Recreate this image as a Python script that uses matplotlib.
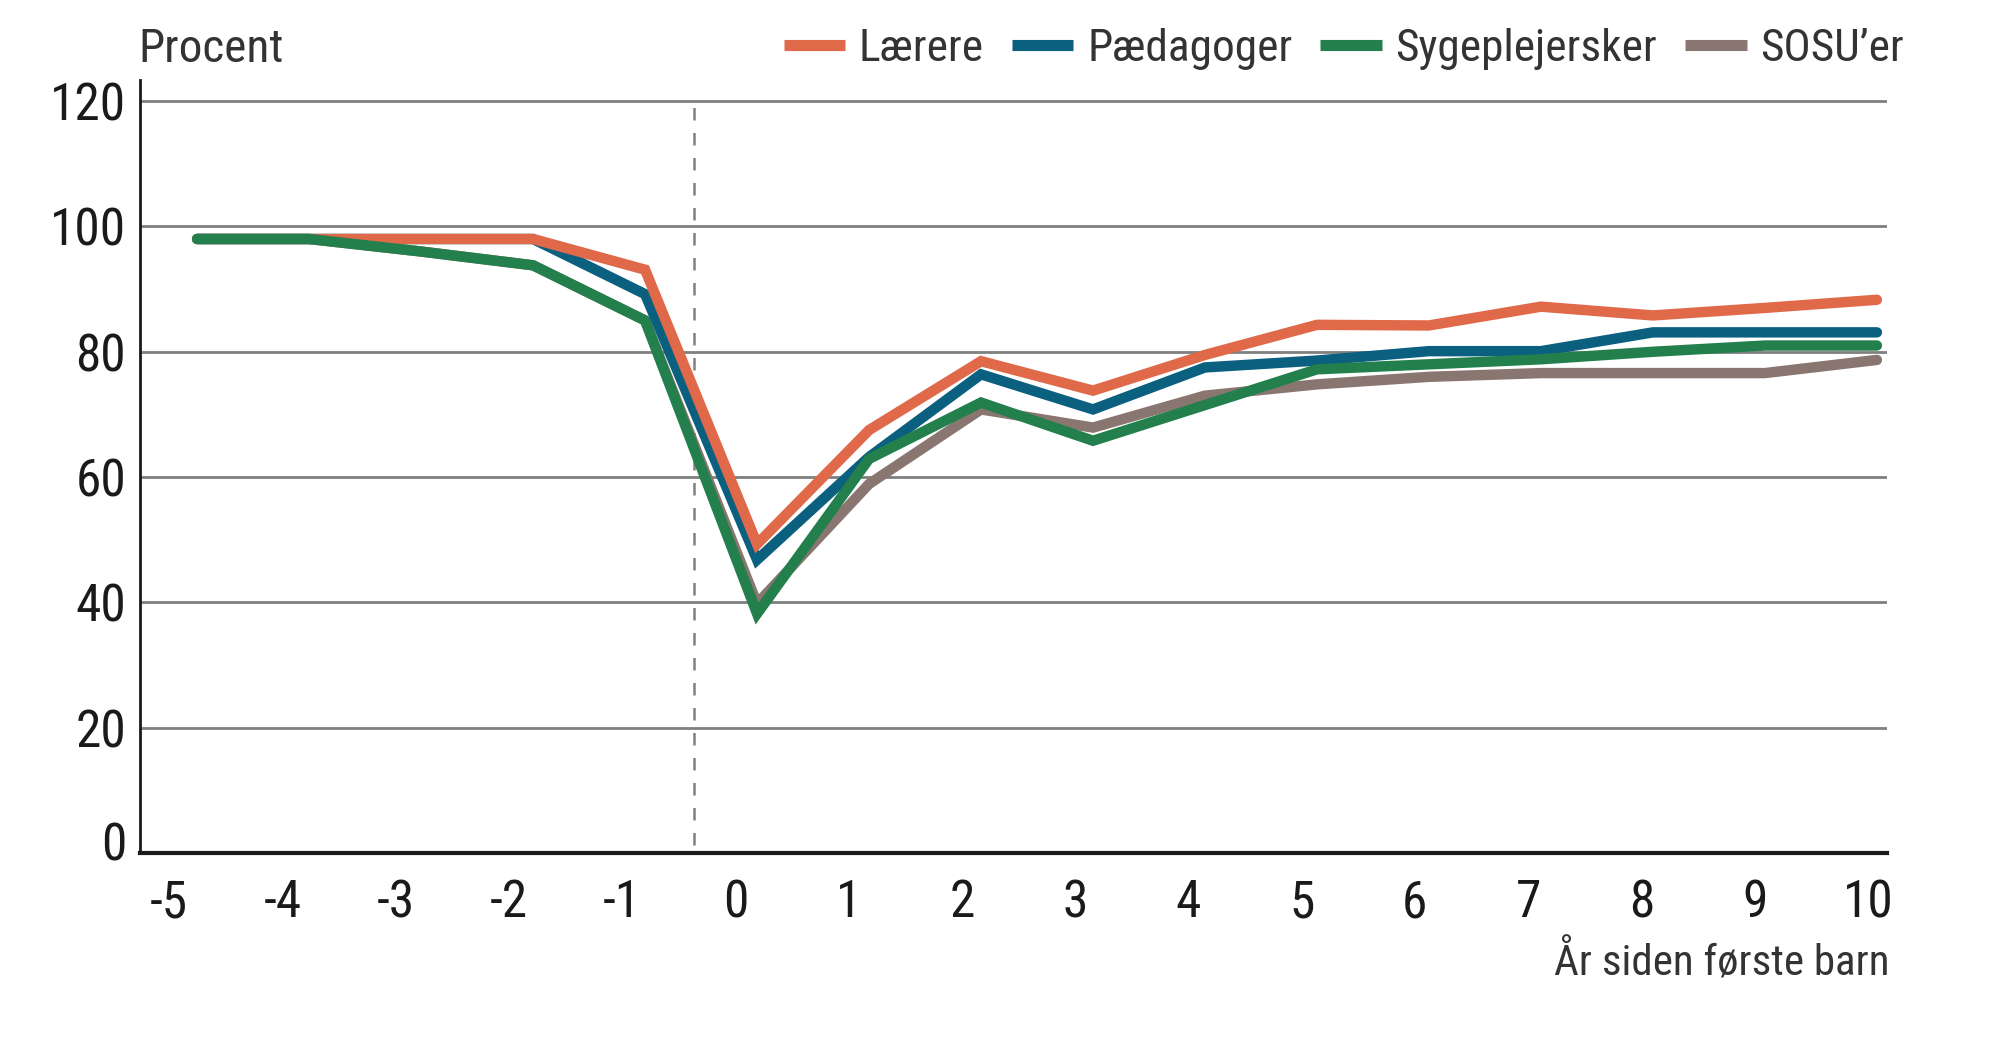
import numpy as np
import matplotlib
matplotlib.use("Agg")
import matplotlib.pyplot as plt
from matplotlib import font_manager
import matplotlib.transforms as mtransforms

# ---- data ----
years = [-5, -4, -3, -2, -1, 0, 1, 2, 3, 4, 5, 6, 7, 8, 9, 10]
tick_labels = [str(y) for y in years]
laerere = [98, 98, 98, 98, 93.1, 49.3, 67.5, 78.5, 73.8, 79.5, 84.3, 84.2, 87.2, 85.8, 87.0, 88.3]
paedagoger = [98, 98, 98, 98, 89.2, 46.8, 63.2, 76.4, 70.8, 77.5, 78.6, 80.1, 80.1, 83.1, 83.1, 83.1]
sygeplejersker = [98, 98, 96, 93.8, 85.0, 38.2, 62.9, 71.9, 65.8, 71.5, 77.2, 78.0, 78.8, 80.0, 81.0, 81.0]
sosu = [98, 98, 96, 93.8, 85.0, 39.8, 58.9, 70.8, 67.9, 73.0, 74.8, 76.0, 76.6, 76.6, 76.6, 78.7]
series_names = ["Lærere", "Pædagoger", "Sygeplejersker", "SOSU’er"]
colors = ["#E0694A", "#0B5F7F", "#23804D", "#8A7670"]
event_x = -0.56
yticks = [0, 20, 40, 60, 80, 100, 120]

# ---- font ----
avail = {f.name for f in font_manager.fontManager.ttflist}
fam = "DejaVu Sans"
for cand in ["Roboto Condensed", "Liberation Sans Narrow", "Roboto", "Liberation Sans"]:
    if cand in avail:
        fam = cand
        break
plt.rcParams["font.family"] = [fam, "DejaVu Sans"]

fig = plt.figure(figsize=(20, 10.37), dpi=100)
ax = fig.add_axes([0.070, 0.1774, 0.8735, 0.745])

x = np.array(years)
order = [3, 1, 0, 2]  # z-order bottom -> top: SOSU, Pædagoger, Lærere, Sygeplejersker
data = [laerere, paedagoger, sygeplejersker, sosu]
handles = {}
for z, i in enumerate(order):
    (ln,) = ax.plot(x, data[i], color=colors[i], lw=7.5, solid_capstyle="round",
                    solid_joinstyle="miter", zorder=3 + z, label=series_names[i])
    handles[i] = ln

ax.set_ylim(0, 123.3)
ax.set_xlim(-5.51, 10.09)
ax.yaxis.grid(True, color="#808080", lw=2.0)
ax.set_axisbelow(True)
ax.tick_params(axis="both", length=0, labelsize=37, colors="#1a1a1a")
ax.set_yticks(yticks)
ax.set_yticklabels([str(v) for v in yticks])
ax.tick_params(axis="y", pad=10)
tick_pos = np.array(years) + np.linspace(-0.25, -0.08, len(years))
ax.set_xticks(tick_pos)
ax.set_xticklabels(tick_labels)
ax.tick_params(axis="x", pad=18)

# lift the "0" label slightly, as in the reference
zero_lbl = ax.get_yticklabels()[0]
zero_lbl.set_transform(zero_lbl.get_transform() +
                       mtransforms.ScaledTranslation(0, 12 / 100, fig.dpi_scale_trans))

for s in ["top", "right"]:
    ax.spines[s].set_visible(False)
ax.spines["left"].set_color("#1a1a1a")
ax.spines["left"].set_linewidth(2.0)
ax.spines["bottom"].set_color("#1a1a1a")
ax.spines["bottom"].set_linewidth(3.0)
ax.spines["bottom"].set_zorder(10)

ax.axvline(event_x, ymin=0.01, ymax=0.975, color="#808080", lw=1.8,
           linestyle=(0, (5, 5)), zorder=2)

fig.text(0.069, 0.953, "Procent", fontsize=34, va="center", ha="left", color="#333333")
fig.text(0.945, 0.072, "År siden første barn", fontsize=31, va="center", ha="right", color="#333333")

leg = fig.legend([handles[i] for i in range(4)], series_names, loc="center right",
                 bbox_to_anchor=(0.952, 0.953), ncol=4, frameon=False, fontsize=32.7,
                 handlelength=1.35, handletextpad=0.3, columnspacing=0.62,
                 borderaxespad=0, borderpad=0)
for t in leg.get_texts():
    t.set_color("#333333")
for lh in leg.get_lines():
    lh.set_linewidth(8)
    lh.set_solid_capstyle("butt")

fig.savefig("out.png", dpi=100, facecolor="white")
